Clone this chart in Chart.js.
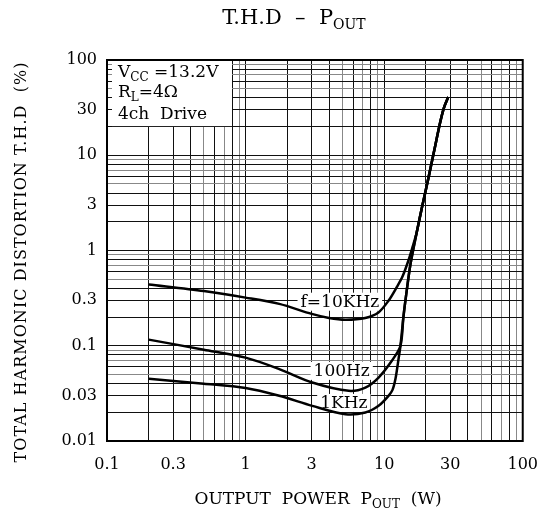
<!DOCTYPE html>
<html>
<head>
<title>T.H.D - POUT</title>
<script src="https://cdn.jsdelivr.net/npm/chart.js@4/dist/chart.umd.min.js"></script>
<style>
body { margin: 0; background: #fff; }
.chart-container { width: 552px; height: 523px; }
</style>
</head>
<body>
<div class="chart-container"><canvas id="thd"></canvas></div>
<script>
// (W, %)
var x10k = [0.2, 0.5, 1, 1.75, 3, 4, 5.26, 7.3, 9.1, 10.75, 12.3, 13.56, 14.97, 16.0, 17.17, 18.87, 20.84, 23.0, 25.4, 27.1, 29];
var y10k = [0.44, 0.375, 0.32, 0.275, 0.216, 0.196, 0.188, 0.196, 0.224, 0.297, 0.41, 0.532, 0.785, 1.076, 1.547, 2.97, 5.72, 11.3, 22.3, 32.0, 40.8];

var x100 = [0.2, 0.5, 1, 1.75, 3.03, 5.55, 7.32, 9.12, 11.36, 13.11, 13.78, 14.55, 15.47, 17.17, 18.87, 20.84, 23.0, 25.4, 27.1, 29];
var y100 = [0.116, 0.091, 0.075, 0.0569, 0.0411, 0.0336, 0.0364, 0.0464, 0.0695, 0.1, 0.202, 0.379, 0.713, 1.547, 2.97, 5.72, 11.3, 22.3, 32.0, 40.8];

var x1k = [0.2, 0.5, 1, 1.75, 3.03, 5.26, 7.32, 9.12, 10.75, 11.49, 12.07, 12.58, 13.11, 13.78, 14.55, 15.47, 17.17, 18.87, 20.84, 23.0, 25.4, 27.1, 29];
var y1k = [0.045, 0.04, 0.036, 0.0298, 0.0234, 0.0191, 0.0199, 0.0234, 0.0298, 0.0344, 0.045, 0.0662, 0.1, 0.202, 0.379, 0.713, 1.547, 2.97, 5.72, 11.3, 22.3, 32.0, 40.8];

var xTickLabels = [0.1, 0.3, 1, 3, 10, 30, 100];
var yTickLabels = [0.01, 0.03, 0.1, 0.3, 1, 3, 10, 30, 100];

var curveLabels = ["f=10KHz", "100Hz", "1KHz"];
var curveLabelX = [4.79, 4.94, 5.12];
var curveLabelY = [0.29, 0.0545, 0.0251];

var FONT = "'DejaVu Serif', serif";

function pts(xs, ys) {
  var out = [];
  for (var i = 0; i < xs.length; i++) out.push({x: xs[i], y: ys[i]});
  return out;
}

// every 1..9 line of each decade
function logGrid(lo, hi) {
  var t = [];
  for (var e = Math.round(Math.log10(lo)); e < Math.round(Math.log10(hi)); e++) {
    for (var m = 1; m <= 9; m++) t.push({value: parseFloat((m * Math.pow(10, e)).toPrecision(3))});
  }
  t.push({value: hi});
  return t;
}

function gridColor(c) {
  var v = c.tick && c.tick.value;
  if (!v) return '#000';
  var m = Math.round(v / Math.pow(10, Math.floor(Math.log10(v) + 1e-9)));
  return (m == 5 || m == 7 || m == 9) ? '#888' : '#111';
}

// text with subscripts, parts = [[text, isSub], ...]
function drawParts(ctx, parts, x, y, size, subSize, align) {
  var w = 0, i;
  for (i = 0; i < parts.length; i++) {
    ctx.font = (parts[i][1] ? subSize : size) + "px " + FONT;
    w += ctx.measureText(parts[i][0]).width;
  }
  if (align == 'center') x -= w / 2;
  ctx.textAlign = 'left';
  ctx.textBaseline = 'middle';
  for (i = 0; i < parts.length; i++) {
    ctx.font = (parts[i][1] ? subSize : size) + "px " + FONT;
    ctx.fillText(parts[i][0], x, parts[i][1] ? y + size * 0.3 : y);
    x += ctx.measureText(parts[i][0]).width;
  }
}

var decor = {
  id: 'decor',
  beforeDatasetsDraw: function(chart) {
    var ctx = chart.ctx, a = chart.chartArea;
    var xs = chart.scales.x, ys = chart.scales.y;
    ctx.save();
    // condition box, top left
    ctx.fillStyle = '#fff';
    ctx.fillRect(a.left + 5, a.top + 1, 120, ys.getPixelForValue(20) - a.top - 1.5);
    ctx.fillStyle = '#000';
    drawParts(ctx, [["V", 0], ["CC", 1], [" =13.2V", 0]], a.left + 11, a.top + 13, 17, 12);
    drawParts(ctx, [["R", 0], ["L", 1], ["=4\u03A9", 0]], a.left + 11, a.top + 33, 17, 12);
    drawParts(ctx, [["4ch  Drive", 0]], a.left + 11, a.top + 55, 17, 12);
    // curve labels
    ctx.font = "17px " + FONT;
    for (var i = 0; i < curveLabels.length; i++) {
      var px = xs.getPixelForValue(curveLabelX[i]);
      var py = ys.getPixelForValue(curveLabelY[i]);
      var w = ctx.measureText(curveLabels[i]).width;
      ctx.fillStyle = '#fff';
      ctx.fillRect(px - w / 2 - 3, py - 9, w + 6, 18);
      ctx.fillStyle = '#000';
      ctx.textAlign = 'center';
      ctx.textBaseline = 'middle';
      ctx.fillText(curveLabels[i], px, py + 1);
    }
    ctx.restore();
  },
  afterDraw: function(chart) {
    var ctx = chart.ctx, a = chart.chartArea;
    ctx.save();
    ctx.strokeStyle = '#000';
    ctx.lineWidth = 2;
    ctx.strokeRect(a.left, a.top, a.right - a.left, a.bottom - a.top);
    ctx.fillStyle = '#000';
    // title
    drawParts(ctx, [["T.H.D  \u2013  P", 0], ["OUT", 1]], 294, 19, 21, 14, 'center');
    // x title
    drawParts(ctx, [["OUTPUT  POWER  P", 0], ["OUT", 1], ["  (W)", 0]], 318, 500, 17, 12, 'center');
    // y title, rotated and spread along the axis
    ctx.translate(22, 262);
    ctx.rotate(-Math.PI / 2);
    var txt = "TOTAL HARMONIC DISTORTION T.H.D  (%)";
    ctx.font = "16px " + FONT;
    var w0 = ctx.measureText(txt).width;
    ctx.letterSpacing = ((400 - w0) / (txt.length - 1)).toFixed(2) + "px";
    ctx.textAlign = 'center';
    ctx.textBaseline = 'middle';
    ctx.fillText(txt, 0, 0);
    ctx.restore();
  }
};

var ctx = document.getElementById('thd');

var chart = new Chart(ctx, {
  type: 'line',
  data: {
    datasets: [
      { label: 'f=10KHz', data: pts(x10k, y10k) },
      { label: '100Hz', data: pts(x100, y100) },
      { label: '1KHz', data: pts(x1k, y1k) }
    ].map(function(d) {
      d.borderColor = '#000';
      d.borderWidth = 2.5;
      d.pointRadius = 0;
      d.fill = false;
      d.tension = 0.3;
      return d;
    })
  },
  options: {
    responsive: true,
    maintainAspectRatio: false,
    animation: false,
    layout: { padding: { top: 60, right: 27, left: 0, bottom: 0 } },
    plugins: { legend: { display: false }, tooltip: { enabled: false } },
    scales: {
      x: {
        type: 'logarithmic',
        min: 0.1,
        max: 100,
        afterBuildTicks: function(s) { s.ticks = logGrid(0.1, 100); },
        afterFit: function(s) { s.height = 82; },
        grid: { color: gridColor, lineWidth: 1, drawTicks: false },
        border: { display: true, color: '#000', width: 2 },
        ticks: {
          autoSkip: false, maxRotation: 0, padding: 14, color: '#000',
          font: { family: FONT, size: 16 },
          callback: function(v) { return xTickLabels.indexOf(v) >= 0 ? String(v) : ''; }
        }
      },
      y: {
        type: 'logarithmic',
        min: 0.01,
        max: 100,
        afterBuildTicks: function(s) { s.ticks = logGrid(0.01, 100); },
        afterFit: function(s) { s.width = 107; },
        grid: { color: gridColor, lineWidth: 1, drawTicks: false },
        border: { display: true, color: '#000', width: 2 },
        ticks: {
          autoSkip: false, padding: 10, color: '#000',
          font: { family: FONT, size: 16 },
          callback: function(v) { return yTickLabels.indexOf(v) >= 0 ? String(v) : ''; }
        }
      }
    }
  },
  plugins: [decor]
});
</script>
</body>
</html>
